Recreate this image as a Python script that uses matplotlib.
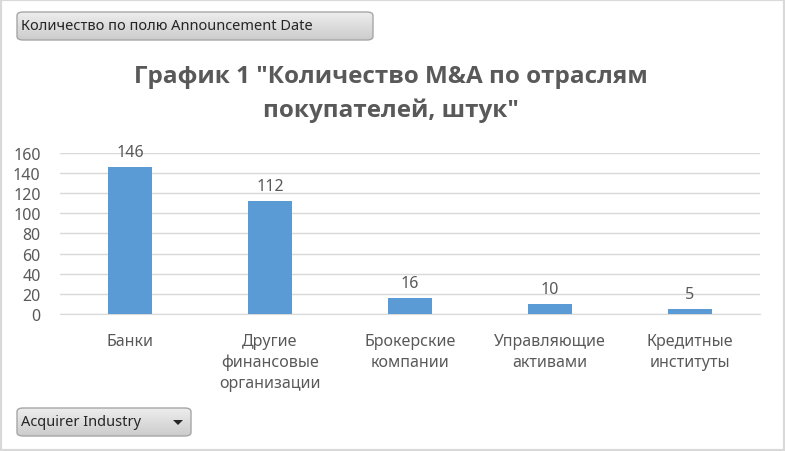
import matplotlib
matplotlib.use("Agg")
import matplotlib.pyplot as plt
import matplotlib.patches as mpatches
import numpy as np

plt.rcParams["font.family"] = ["Noto Sans", "DejaVu Sans"]

# ── Data ────────────────────────────────────────────────────────────
categories = ["Банки", "Другие\nфинансовые\nорганизации", "Брокерские\nкомпании",
              "Управляющие\nактивами", "Кредитные\nинституты"]
counts = [146, 112, 16, 10, 5]
yticks = [0, 20, 40, 60, 80, 100, 120, 140, 160]

TEXT = "#595959"
BAR = "#5b9bd5"
GRID = "#d9d9d9"

W, H = 785, 452
fig = plt.figure(figsize=(W / 100, H / 100), dpi=100)
fig.patch.set_facecolor("white")


def px(x, y):
    """pixel coords (top-left origin) -> figure fraction"""
    return x / W, 1 - y / H


# outer border
fig.add_artist(mpatches.Rectangle((0, 0), 1, 1, transform=fig.transFigure,
                                  fill=False, edgecolor="#d9d9d9", linewidth=3))

# ── Chart ───────────────────────────────────────────────────────────
left, top = px(60, 154)
right, bottom = px(760, 315)
ax = fig.add_axes([left, bottom, right - left, top - bottom])
x = np.arange(len(categories))
ax.bar(x, counts, width=0.31, color=BAR, zorder=3)
ax.set_xlim(-0.5, len(categories) - 0.5)
ax.set_ylim(0, 160)
ax.set_yticks(yticks)
ax.yaxis.grid(True, color=GRID, linewidth=1, zorder=0)
for s in ax.spines.values():
    s.set_visible(False)
ax.spines["bottom"].set_visible(True)
ax.spines["bottom"].set_color(GRID)
ax.tick_params(axis="both", length=0, colors=TEXT, labelsize=11.5)
ax.tick_params(axis="y", pad=14)
ax.tick_params(axis="x", pad=14)
ax.set_xticks(x)
ax.set_xticklabels(categories, linespacing=1.35)
for xi, v in zip(x, counts):
    ax.annotate(str(v), (xi, v), xytext=(0, 5), textcoords="offset points",
                ha="center", va="bottom", color=TEXT, fontsize=11.5)

# ── Title ───────────────────────────────────────────────────────────
tx, ty = px(391, 94)
fig.text(tx, ty, 'График 1 "Количество M&A по отраслям\nпокупателей, штук"',
         ha="center", va="center", fontsize=17.5, fontweight="bold", color=TEXT,
         family=["Open Sans", "Liberation Sans", "DejaVu Sans"], linespacing=1.5)


# ── Pivot buttons ───────────────────────────────────────────────────
def button(x0, y0, x1, y1, label, arrow=False):
    bx, by = px(x0, y1)
    bw, bh = (x1 - x0) / W, (y1 - y0) / H
    box = mpatches.FancyBboxPatch(
        (bx, by), bw, bh, boxstyle="round,pad=0,rounding_size=0.008",
        transform=fig.transFigure, facecolor="none", edgecolor="#a6a6a6",
        linewidth=1, zorder=5)
    bax = fig.add_axes([bx, by, bw, bh], zorder=-1)
    bax.set_axis_off()
    grad = np.linspace(0.93, 0.80, 50).reshape(-1, 1)
    im = bax.imshow(np.dstack([grad, grad, grad]), aspect="auto",
                    extent=[0, 1, 0, 1])
    im.set_clip_path(box)
    fig.add_artist(box)
    lx, ly = px(x0 + 4, (y0 + y1) / 2)
    fig.text(lx, ly, label, ha="left", va="center", fontsize=10.5, color="#262626")
    if arrow:
        cx, cy = x1 - 13, (y0 + y1) / 2
        tri = [px(cx - 5, cy - 2), px(cx + 5, cy - 2), px(cx, cy + 3)]
        fig.add_artist(mpatches.Polygon(tri, closed=True, transform=fig.transFigure,
                                        facecolor="#262626", edgecolor="none"))


button(17, 13, 373, 41, "Количество по полю Announcement Date")
button(17, 409, 191, 437, "Acquirer Industry", arrow=True)

fig.savefig("out.png", dpi=100, facecolor=fig.get_facecolor())
